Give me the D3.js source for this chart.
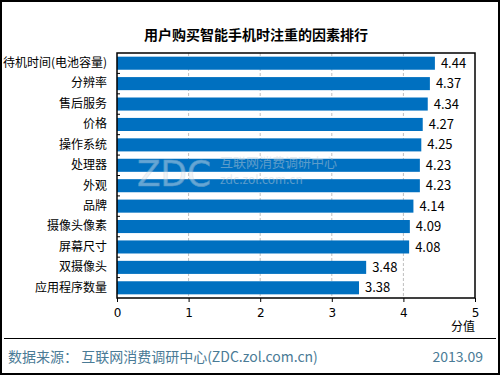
<!DOCTYPE html>
<html>
<head>
<meta charset="utf-8">
<script src="https://cdn.jsdelivr.net/npm/d3@7"></script>
<style>
  body { margin: 0; background: #fff; }
  text { font-family: "Noto Sans CJK SC", "Noto Sans", sans-serif; }
</style>
</head>
<body>
<div id="chart"></div>
<script>
const categories = ["待机时间(电池容量)", "分辨率", "售后服务", "价格", "操作系统", "处理器",
  "外观", "品牌", "摄像头像素", "屏幕尺寸", "双摄像头", "应用程序数量"];
const values = [4.44, 4.37, 4.34, 4.27, 4.25, 4.23, 4.23, 4.14, 4.09, 4.08, 3.48, 3.38];
const xTicks = [0, 1, 2, 3, 4, 5];
const title = "用户购买智能手机时注重的因素排行";
const xTitle = "分值";
const source = "数据来源：  互联网消费调研中心(ZDC.zol.com.cn)";
const date = "2013.09";

const width = 500;
const height = 375;
const margin = { left: 117, right: 25, top: 53, bottom: 77 };
const barColor = "#0070c0";

const svg = d3.select("#chart").append("svg")
    .attr("width", width)
    .attr("height", height);

svg.append("rect")
    .attr("x", 1).attr("y", 1)
    .attr("width", width - 2).attr("height", height - 2)
    .attr("fill", "#fff")
    .attr("stroke", "#000")
    .attr("stroke-width", 2);

const x = d3.scaleLinear()
    .domain([0, 5])
    .range([margin.left, width - margin.right]);

const y = d3.scaleBand()
    .domain(categories)
    .range([margin.top, height - margin.bottom])
    .paddingInner(0.36)
    .paddingOuter(0.18);

// title
svg.append("text")
    .attr("x", 256)
    .attr("y", 40)
    .attr("text-anchor", "middle")
    .style("font-size", "14px")
    .style("font-weight", "bold")
    .attr("fill", "#000")
    .text(title);

// grid
svg.append("g")
  .selectAll("line")
  .data(xTicks.slice(1, -1))
  .join("line")
    .attr("x1", d => x(d)).attr("x2", d => x(d))
    .attr("y1", margin.top).attr("y2", height - margin.bottom)
    .attr("stroke", "#bfbfbf")
    .attr("stroke-dasharray", "3,2");

// bars
svg.append("g")
  .selectAll("rect")
  .data(values)
  .join("rect")
    .attr("x", x(0))
    .attr("y", (d, i) => y(categories[i]))
    .attr("width", d => x(d) - x(0))
    .attr("height", y.bandwidth())
    .attr("fill", barColor);

// watermark
const wm = svg.append("g").style("opacity", 0.45);
wm.append("text")
    .attr("x", 137).attr("y", 186)
    .style("font-family", "DejaVu Sans, sans-serif")
    .style("font-size", "36px")
    .attr("textLength", 74)
    .attr("lengthAdjust", "spacingAndGlyphs")
    .attr("fill", "#dfe8ef")
    .attr("stroke", "#b8c6d0")
    .attr("stroke-width", 0.6)
    .text("ZDC");
wm.append("text")
    .attr("x", 220).attr("y", 167)
    .style("font-size", "13px")
    .attr("fill", "#c9d2d8")
    .text("互联网消费调研中心");
wm.append("text")
    .attr("x", 220).attr("y", 184)
    .style("font-size", "12px")
    .attr("fill", "#c9d2d8")
    .text("zdc.zol.com.cn");

// value labels
svg.append("g")
  .selectAll("text")
  .data(values)
  .join("text")
    .attr("x", d => x(d) + 6)
    .attr("y", (d, i) => y(categories[i]) + y.bandwidth() / 2)
    .attr("dy", "0.35em")
    .style("font-size", "13px")
    .attr("fill", "#000")
    .text(d => d.toFixed(2));

// plot frame
svg.append("rect")
    .attr("x", margin.left).attr("y", margin.top)
    .attr("width", x(5) - x(0))
    .attr("height", height - margin.bottom - margin.top)
    .attr("fill", "none")
    .attr("stroke", "#000")
    .attr("stroke-width", 1.5);

// y axis
const yAxis = svg.append("g")
    .attr("transform", `translate(${margin.left},0)`)
    .call(d3.axisLeft(y).tickSize(0).tickPadding(10));
yAxis.select(".domain").remove();
yAxis.selectAll(".tick text")
    .style("font-size", "12px")
    .style("font-family", "\"Noto Sans CJK SC\", sans-serif")
    .attr("fill", "#000");

// small ticks between categories
svg.append("g")
  .selectAll("line")
  .data(d3.range(1, categories.length))
  .join("line")
    .attr("x1", margin.left).attr("x2", margin.left + 3)
    .attr("y1", i => y(categories[i]) - y.step() * y.paddingInner() / 2)
    .attr("y2", i => y(categories[i]) - y.step() * y.paddingInner() / 2)
    .attr("stroke", "#000");

// x axis
const xAxis = svg.append("g")
    .attr("transform", `translate(0,${height - margin.bottom})`)
    .call(d3.axisBottom(x).tickValues(xTicks).tickSize(4).tickPadding(6).tickFormat(d3.format("d")));
xAxis.select(".domain").remove();
xAxis.selectAll(".tick text")
    .style("font-size", "12px")
    .style("font-family", "\"DejaVu Sans\", sans-serif")
    .attr("fill", "#000");

svg.append("text")
    .attr("x", x(5))
    .attr("y", 331)
    .attr("text-anchor", "end")
    .style("font-size", "12px")
    .attr("fill", "#000")
    .text(xTitle);

// footer
svg.append("line")
    .attr("x1", 4).attr("x2", 496)
    .attr("y1", 338.5).attr("y2", 338.5)
    .attr("stroke", "#000");

svg.append("text")
    .attr("x", 8).attr("y", 362)
    .style("font-size", "14px")
    .attr("fill", "#4a7b96")
    .text(source);

svg.append("text")
    .attr("x", 483).attr("y", 362)
    .attr("text-anchor", "end")
    .style("font-size", "14px")
    .attr("fill", "#4a7b96")
    .text(date);
</script>
</body>
</html>
